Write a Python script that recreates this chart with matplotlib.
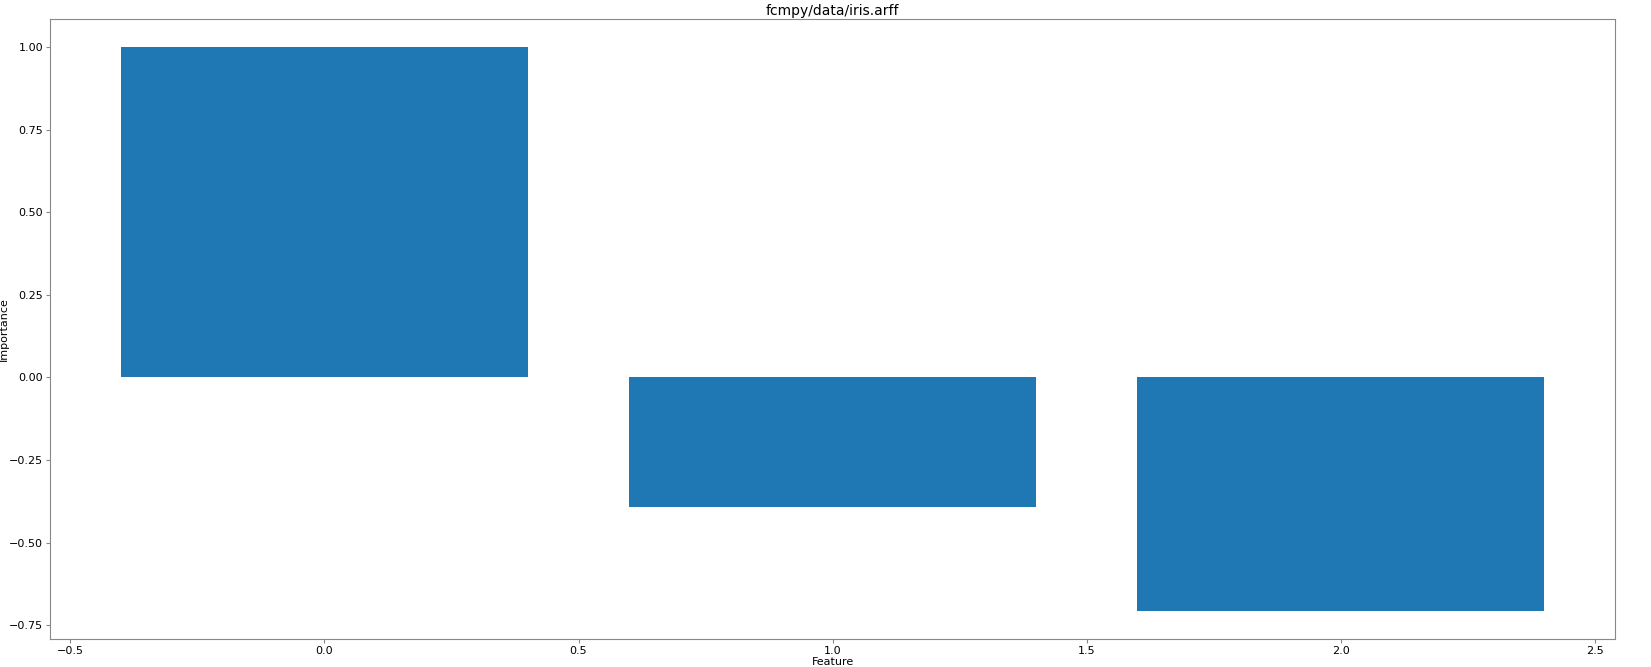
import matplotlib
matplotlib.use('Agg')
import matplotlib.pyplot as plt

# Feature importances
features = [0, 1, 2]
importance = [1.0, -0.392, -0.706]

fig = plt.figure(figsize=(16.51, 6.67), dpi=100)
ax = fig.add_axes([0.0303, 0.042, 0.9480, 0.930])
ax.bar(features, importance, color='#1f77b4')
ax.set_title('fcmpy/data/iris.arff', fontsize=10, pad=3)
ax.set_xlabel('Feature', fontsize=8, labelpad=1)
ax.set_ylabel('Importance', fontsize=8)
ax.yaxis.set_label_coords(-0.0265, 0.5)
ax.tick_params(labelsize=8, length=3, pad=2, color='#888888')
for s in ax.spines.values():
    s.set_color('#888888')

fig.savefig('out.png', dpi=100)
